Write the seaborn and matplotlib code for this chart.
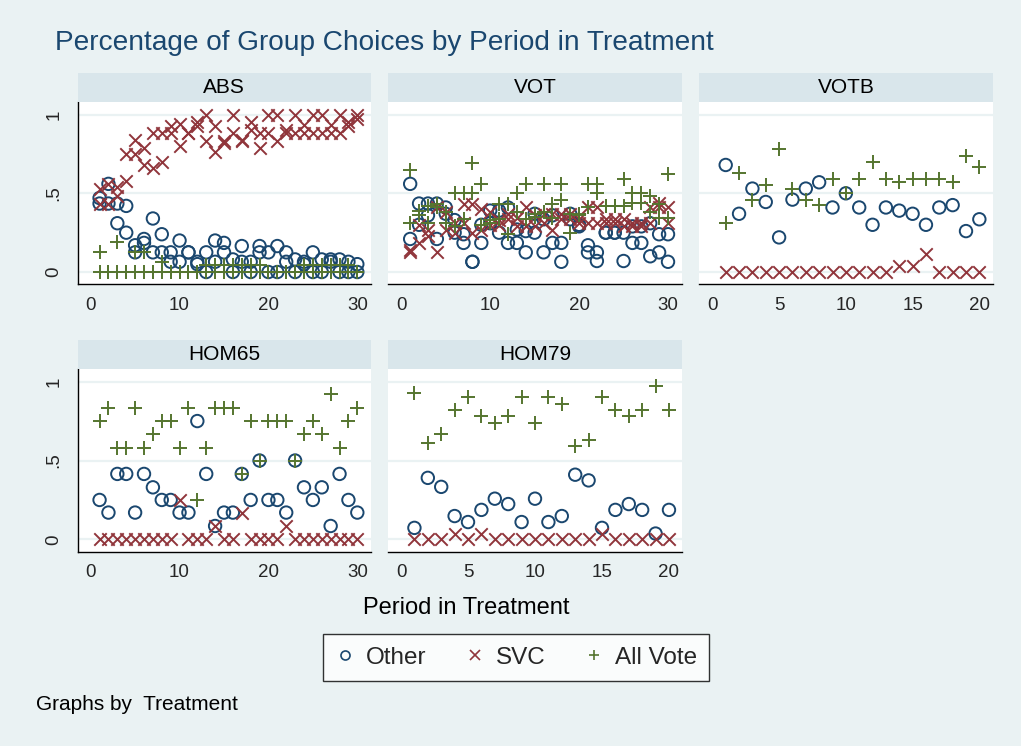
import numpy as np
import pandas as pd
import matplotlib
matplotlib.use("Agg")
import matplotlib.pyplot as plt
from matplotlib.lines import Line2D
import seaborn as sns

sns.set_style("white")
plt.rcParams['font.family'] = ['Liberation Sans', 'DejaVu Sans']

# ---------------- data ----------------
periods30 = list(range(1, 31))
periods20 = list(range(1, 21))

# ABS (two groups per period)
abs_other_a = [.47, .56, .435, .42, .17, .21, .34, .24, .125, .20, .125, .065, .125, .20, .185,
               .08, .165, .065, .165, .125, .165, .125, .08, .065, .125, .08, .08, .08, .065, .05]
abs_other_b = [.435, .435, .31, .25, .125, .185, .125, .125, .065, .065, .125, .05, 0, .065, .125,
               0, .065, 0, .125, 0, 0, .065, 0, .05, 0, 0, .065, 0, 0, 0]
abs_svc_a = [.53, .56, .54, .58, .84, .79, .88, .88, .93, .94, .88, .955, 1.0, .93, .835,
             1.0, .835, .95, .88, 1.0, 1.0, .90, 1.0, .935, 1.0, 1.0, .935, 1.0, .95, 1.0]
abs_svc_b = [.435, .435, .48, .75, .75, .68, .66, .70, .88, .80, .88, .93, .835, .76, .82,
             .88, .84, .90, .79, .88, .835, .88, .88, .88, .88, .88, .88, .88, .93, .97]
abs_all_a = [.125, 0, .19, 0, .125, .125, 0, .065, 0, 0, 0, 0, .045, .045, .045,
             .045, .045, .045, .045, 0, 0, 0, 0, .045, .045, .045, .045, .045, .045, 0]
abs_all_b = [0] * 30

# VOT (two groups per period)
vot_other_a = [.56, .435, .435, .435, .41, .33, .24, .065, .30, .39, .39, .41, .27, .26, .37,
               .335, .36, .185, .37, .30, .17, .125, .25, .25, .25, .29, .29, .31, .24, .24]
vot_other_b = [.21, .30, .36, .21, .37, .25, .185, .065, .185, .31, .25, .185, .185, .125, .25,
               .125, .185, .065, .335, .29, .125, .07, .25, .25, .07, .185, .185, .10, .125, .065]
vot_svc_a = [.14, .30, .23, .41, .38, .31, .43, .43, .40, .38, .33, .37, .34, .41, .36,
             .37, .37, .37, .37, .335, .41, .41, .335, .335, .335, .31, .31, .41, .44, .41]
vot_svc_b = [.13, .185, .27, .125, .27, .25, .31, .25, .27, .30, .30, .335, .29, .29, .29,
             .31, .27, .335, .335, .31, .31, .31, .31, .31, .29, .29, .29, .31, .41, .31]
vot_all_a = [.65, .39, .42, .43, .38, .50, .50, .69, .56, .31, .43, .43, .50, .56, .37,
             .56, .43, .56, .37, .37, .56, .56, .42, .42, .59, .50, .50, .485, .43, .62]
vot_all_b = [.31, .36, .31, .41, .31, .29, .335, .50, .30, .33, .335, .24, .38, .335, .35,
             .38, .345, .46, .25, .36, .41, .505, .42, .42, .42, .44, .44, .38, .345, .345]

# VOTB
votb_other = [.68, .37, .53, .445, .22, .46, .53, .57, .41, .50, .41, .30, .41, .39, .37,
              .30, .41, .425, .26, .335]
votb_svc = [0, 0, 0, 0, 0, 0, 0, 0, 0, 0, 0, 0, 0, .04, .04, .115, 0, 0, 0, 0]
votb_all = [.31, .63, .46, .555, .78, .53, .46, .425, .59, .50, .59, .70, .59, .575, .59,
            .59, .59, .575, .74, .665]

# HOM65
hom65_other = [.25, .17, .415, .415, .17, .415, .33, .25, .25, .17, .17, .75, .415, .085, .17,
               .17, .415, .25, .50, .25, .25, .17, .50, .33, .25, .33, .085, .415, .25, .17]
hom65_svc = [0, 0, 0, 0, 0, 0, 0, 0, 0, .25, 0, 0, 0, .085, 0,
             0, .17, 0, 0, 0, 0, .085, 0, 0, 0, 0, 0, 0, 0, 0]
hom65_all = [.75, .835, .58, .58, .835, .58, .67, .75, .75, .58, .835, .25, .58, .835, .835,
             .835, .415, .75, .50, .75, .75, .75, .50, .67, .75, .67, .92, .58, .75, .835]

# HOM79
hom79_other = [.073, .39, .333, .148, .11, .187, .258, .224, .11, .258, .11, .148, .41, .374, .073,
               .187, .224, .187, .037, .187]
hom79_svc = [0, 0, 0, .037, 0, .037, 0, 0, 0, 0, 0, 0, 0, 0, .037, 0, 0, 0, 0, 0]
hom79_all = [.93, .61, .67, .82, .90, .78, .74, .78, .90, .74, .90, .855, .595, .63, .90,
             .82, .78, .82, .97, .82]

# ---------------- style ----------------
NAVY = "#1A476F"
MAROON = "#90353B"
GREEN = "#55752F"
BG = "#EAF2F3"
STRIP = "#D9E6EB"

W, H = 1021, 746
fig = plt.figure(figsize=(W / 100, H / 100), dpi=100)
fig.patch.set_facecolor(BG)


def px_axes(l, t, r, b):
    return fig.add_axes([l / W, 1 - b / H, (r - l) / W, (b - t) / H])


def strip(l, t, r, b, label):
    sa = px_axes(l, t, r, b)
    sa.set_facecolor(STRIP)
    sa.set_xticks([]); sa.set_yticks([])
    for s in sa.spines.values():
        s.set_visible(False)
    sa.text(0.5, 0.5, label, ha="center", va="center",
            fontsize=15, color="black", transform=sa.transAxes)


def scatter(ax, x, y, kind):
    if kind == "other":
        sns.scatterplot(x=x, y=y, ax=ax, marker="o", s=80, color=NAVY, linewidth=1.4, zorder=3)
        pc = ax.collections[-1]
        pc.set_facecolor("none")
        pc.set_edgecolor(NAVY)
    elif kind == "svc":
        sns.scatterplot(x=x, y=y, ax=ax, marker="x", s=80, color=MAROON, linewidth=1.4, zorder=4)
    else:
        sns.scatterplot(x=x, y=y, ax=ax, marker="+", s=95, color=GREEN, linewidth=1.4, zorder=5)


def panel(box, sbox, label, xs, series, xticks, xlim, left_axis):
    ax = px_axes(*box)
    strip(*sbox, label)
    ax.set_facecolor("white")
    for yv in [0, .5, 1]:
        ax.axhline(yv, color=BG, lw=1.6, zorder=1)
    for kind, arrs in series:
        for arr in arrs:
            scatter(ax, xs, arr, kind)
    ax.set_xlim(*xlim)
    ax.set_ylim(-0.078, 1.08)
    ax.set_xticks(xticks)
    ax.set_xticklabels([str(t) for t in xticks], fontsize=13.5)
    ax.set_yticks([0, .5, 1])
    ax.spines["top"].set_visible(False)
    ax.spines["right"].set_visible(False)
    ax.spines["bottom"].set_color("black")
    ax.spines["bottom"].set_linewidth(1.0)
    ax.tick_params(axis="x", direction="out", length=6, width=1, color="black", pad=3)
    if left_axis:
        ax.spines["left"].set_color("black")
        ax.spines["left"].set_linewidth(1.0)
        ax.set_yticklabels(["0", ".5", "1"], fontsize=13.5, rotation=90, va="center")
        ax.tick_params(axis="y", direction="out", length=6, width=1, color="black", pad=5)
    else:
        ax.spines["left"].set_visible(False)
        ax.tick_params(axis="y", length=0, labelleft=False)
    ax.set_xlabel(""); ax.set_ylabel("")
    return ax


top_l, top_r = 77.7, 371
mid_l, mid_r = 388.3, 681.7
rt_l, rt_r = 699, 992.7

panel((top_l, 102, top_r, 284.3), (top_l, 73, top_r, 102), "ABS", periods30,
      [("other", [abs_other_a, abs_other_b]), ("svc", [abs_svc_a, abs_svc_b]),
       ("all", [abs_all_a, abs_all_b])], [0, 10, 20, 30], (-1.46, 31.54), True)
panel((mid_l, 102, mid_r, 284.3), (mid_l, 73, mid_r, 102), "VOT", periods30,
      [("other", [vot_other_a, vot_other_b]), ("svc", [vot_svc_a, vot_svc_b]),
       ("all", [vot_all_a, vot_all_b])], [0, 10, 20, 30], (-1.46, 31.54), False)
panel((rt_l, 102, rt_r, 284.3), (rt_l, 73, rt_r, 102), "VOTB", periods20,
      [("other", [votb_other]), ("svc", [votb_svc]), ("all", [votb_all])],
      [0, 5, 10, 15, 20], (-1.0, 21.0), False)
panel((top_l, 369, top_r, 551.7), (top_l, 340, top_r, 369), "HOM65", periods30,
      [("other", [hom65_other]), ("svc", [hom65_svc]), ("all", [hom65_all])],
      [0, 10, 20, 30], (-1.46, 31.54), True)
panel((mid_l, 369, mid_r, 551.7), (mid_l, 340, mid_r, 369), "HOM79", periods20,
      [("other", [hom79_other]), ("svc", [hom79_svc]), ("all", [hom79_all])],
      [0, 5, 10, 15, 20], (-0.95, 20.95), False)

# title and labels
fig.text(55 / W, 1 - 43 / H, "Percentage of Group Choices by Period in Treatment",
         fontsize=20.2, color=NAVY, ha="left", va="center")
fig.text(466 / W, 1 - 608 / H, "Period in Treatment", fontsize=17, color="black",
         ha="center", va="center")
fig.text(36 / W, 1 - 704 / H, "Graphs by  Treatment", fontsize=15, color="black",
         ha="left", va="center")

# legend
handles = [
    Line2D([], [], marker="o", ls="none", markersize=6.5, markerfacecolor="none",
           markeredgecolor=NAVY, markeredgewidth=1.2, label="Other"),
    Line2D([], [], marker="x", ls="none", markersize=6.5, color=MAROON,
           markeredgewidth=1.2, label="SVC"),
    Line2D([], [], marker="+", ls="none", markersize=7.5, color=GREEN,
           markeredgewidth=1.2, label="All Vote"),
]
leg = fig.legend(handles=handles, loc="center", bbox_to_anchor=(516 / W, 1 - 657.5 / H),
                 ncol=3, frameon=True, fancybox=False, fontsize=17.5, handletextpad=0.45,
                 columnspacing=1.55, borderpad=0.5, handlelength=0.85)
leg.get_frame().set_edgecolor("black")
leg.get_frame().set_linewidth(1.0)
leg.get_frame().set_facecolor("white")

fig.savefig("out.png", dpi=100, facecolor=BG)
